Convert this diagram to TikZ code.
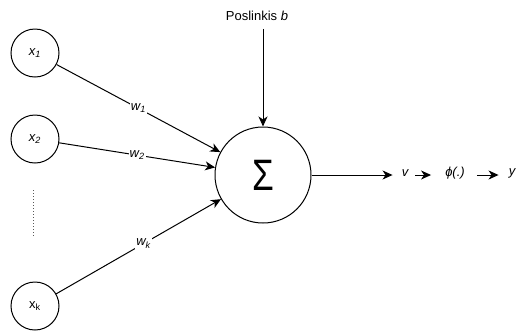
\documentclass[tikz,border=0pt]{standalone}
\usepackage{fontspec}
\setmainfont{Liberation Sans}
\usetikzlibrary{arrows.meta}
\begin{document}
\begin{tikzpicture}[x=1pt,y=-1pt,
  every node/.style={font=\fontsize{13}{15}\selectfont},
  inp/.style={circle,draw,line width=1pt,minimum size=48pt,inner sep=0pt},
  sumc/.style={circle,draw,line width=1pt,minimum size=96pt,inner sep=0pt},
  conn/.style={line width=1pt,-{Stealth[length=10pt,width=9pt,inset=3pt]}},
  wlab/.style={fill=white,inner sep=1pt,font=\fontsize{13}{15}\selectfont\itshape},
  txt/.style={inner sep=0pt},
  itxt/.style={inner sep=0pt,font=\fontsize{13}{15}\selectfont\itshape}]
\useasboundingbox (0,0) rectangle (517,333);
\node[inp] (x1) at (35,53) {\itshape x\textsubscript{1}};
\node[inp] (x2) at (35,139) {\itshape x\textsubscript{2}};
\node[inp] (xk) at (35,306) {x\textsubscript{k}};
\node[sumc] (s) at (263,175) {\scalebox{0.8}[1]{\fontsize{44}{44}\selectfont Σ}};
\node[txt] (b) at (257,16) {Poslinkis \textit{b}};
\coordinate (d1) at (33,190);
\coordinate (d2) at (33,236);
\draw[gray!70!black,line width=1pt,dash pattern=on 1pt off 2pt] (d1) -- (d2);
\draw[conn] (x1) -- node[wlab,pos=0.5] {w\textsubscript{1}} (s);
\draw[conn] (x2) -- node[wlab,pos=0.5] {w\textsubscript{2}} (s);
\draw[conn] (xk) -- node[wlab,pos=0.53] {w\textsubscript{k}} (s);
\draw[conn] ([yshift=-8pt]s.north |- b.south) -- (s.north);
\node[itxt] (v) at (405,173) {v};
\node[itxt] (phi) at (455,173) {ϕ(.)};
\node[itxt] (y) at (512,173) {y};
\draw[conn,shorten >=9pt] (s.east) -- (s.east -| v.west);
\draw[conn,shorten <=7pt,shorten >=14pt] (v.east |- s.east) -- (s.east -| phi.west);
\draw[conn,shorten <=12pt,shorten >=10pt] (phi.east |- s.east) -- (s.east -| y.west);
\end{tikzpicture}
\end{document}
